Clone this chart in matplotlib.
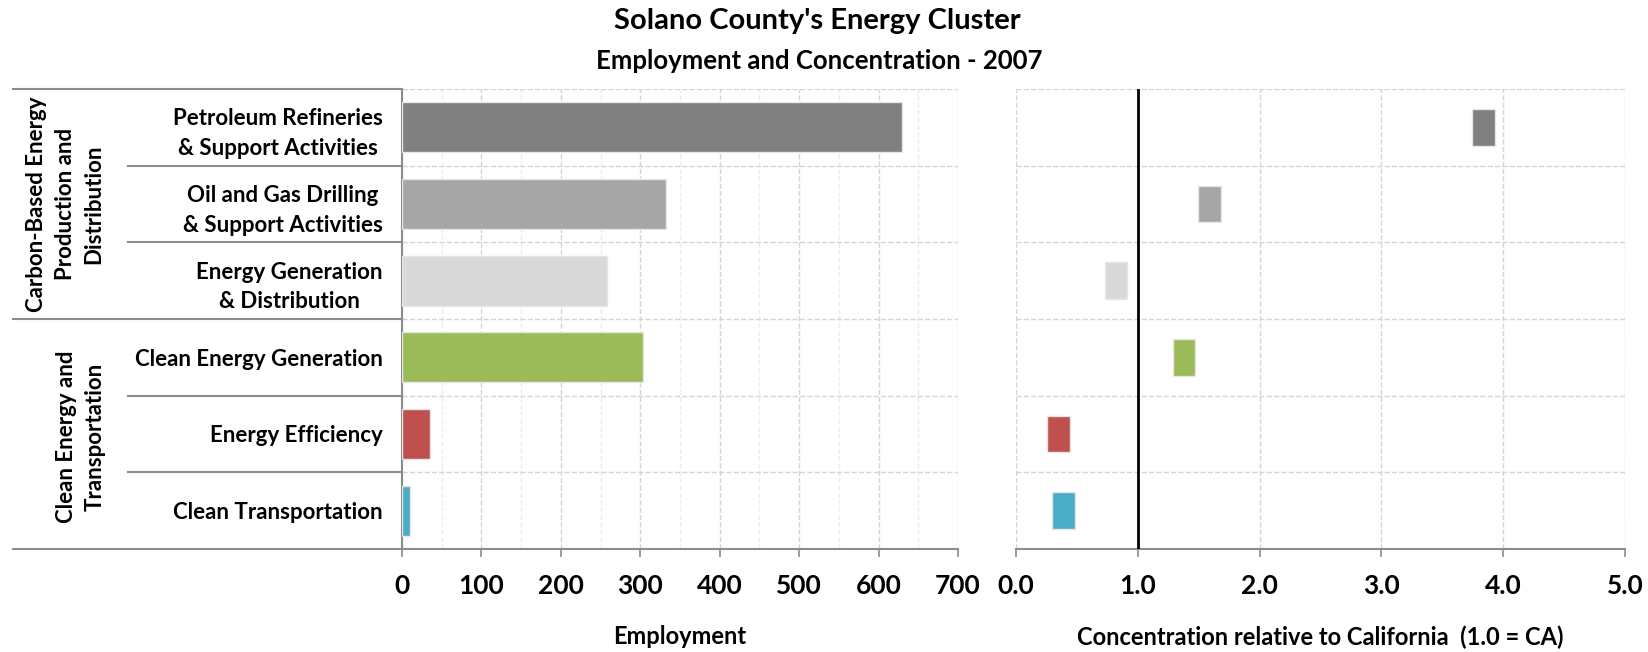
import numpy as np
import matplotlib.pyplot as plt
from matplotlib.lines import Line2D
from matplotlib.ticker import MultipleLocator, FixedLocator

plt.rcParams['font.family'] = ['Lato', 'DejaVu Sans']
plt.rcParams['font.weight'] = 'bold'

# data
categories = ["Petroleum Refineries\n& Support Activities",
              "Oil and Gas Drilling\n& Support Activities",
              "Energy Generation\n& Distribution",
              "Clean Energy Generation",
              "Energy Efficiency",
              "Clean Transportation"]
groups = ["Carbon-Based Energy\nProduction and\nDistribution",
          "Clean Energy and\nTransportation"]
group_sizes = [3, 3]
employment = [629, 333, 258, 303, 35, 10]
concentration = [3.84, 1.59, 0.82, 1.38, 0.35, 0.39]
colors = ['#808080', '#a6a6a6', '#d9d9d9', '#9bbb59', '#c0504d', '#4bacc6']

W, H = 1648, 652
fig = plt.figure(figsize=(W / 100, H / 100), dpi=100)
L1, R1, L2, R2, TOP, BOT = 402, 958, 1016, 1625, 89, 549
ax1 = fig.add_axes([L1 / W, 1 - BOT / H, (R1 - L1) / W, (BOT - TOP) / H])
ax2 = fig.add_axes([L2 / W, 1 - BOT / H, (R2 - L2) / W, (BOT - TOP) / H])

y = np.arange(len(categories))
fs = 16
grid_col = '#d4d4d4'

# employment bars
ax1.barh(y, employment, height=0.65, color=colors, edgecolor='#e6e6e6', linewidth=1, zorder=3)
ax1.set_xlim(0, 700)
ax1.set_ylim(len(categories) - 0.5, -0.5)
ax1.xaxis.set_major_locator(MultipleLocator(100))
ax1.xaxis.set_minor_locator(MultipleLocator(50))
ax1.set_yticks(y)
ax1.set_yticklabels(categories, fontsize=fs, fontweight='bold', linespacing=1.5)
for t in ax1.get_yticklabels():
    t.set_multialignment('center')
ax1.yaxis.set_minor_locator(FixedLocator(np.arange(-0.5, len(categories), 1.0)))
ax1.tick_params(axis='y', which='both', length=0, pad=14)
ax1.grid(axis='x', which='major', color=grid_col, linestyle='--', linewidth=1, zorder=0)
ax1.grid(axis='x', which='minor', color='#ececec', linestyle='--', linewidth=1, zorder=0)
ax1.grid(axis='y', which='minor', color=grid_col, linestyle='--', linewidth=1, zorder=0)
ax1.set_xlabel('Employment', fontsize=17, fontweight='bold')

# concentration markers
box_w = 0.186
ax2.barh(y, [box_w] * len(y), left=np.array(concentration) - box_w / 2, height=0.48,
         color=colors, edgecolor='#e6e6e6', linewidth=1, zorder=3)
ax2.axvline(1.0, color='black', linewidth=2, zorder=4)
ax2.set_xlim(0, 5)
ax2.set_ylim(len(categories) - 0.5, -0.5)
ax2.set_xticks(np.arange(0, 5.1, 1.0))
ax2.set_xticklabels([f"{v:.1f}" for v in np.arange(0, 5.1, 1.0)])
ax2.set_yticks(np.arange(-0.5, len(categories), 1.0))
ax2.set_yticklabels([])
ax2.tick_params(axis='y', length=0)
ax2.grid(axis='both', color=grid_col, linestyle='--', linewidth=1, zorder=0)
ax2.set_xlabel('Concentration relative to California  (1.0 = CA)', fontsize=17, fontweight='bold')

for ax in (ax1, ax2):
    for s in ('top', 'right'):
        ax.spines[s].set_visible(False)
    ax.spines['bottom'].set_color('#8c8c8c')
    ax.spines['bottom'].set_linewidth(1.5)
    ax.tick_params(axis='x', which='major', direction='out', length=6, width=1.2,
                   color='#8c8c8c', pad=12, labelsize=19)
    ax.tick_params(axis='x', which='minor', length=0)
    for t in ax.get_xticklabels():
        t.set_fontweight('bold')
    ax.xaxis.set_label_coords(0.5, -(637 - BOT) / (BOT - TOP))
    ax.xaxis.label.set_va('center')
ax1.spines['left'].set_color('#8c8c8c')
ax1.spines['left'].set_linewidth(1.5)
ax2.spines['left'].set_visible(False)

# category table lines on the left
trans = ax1.get_yaxis_transform()
x_inner = -(L1 - 128) / (R1 - L1)
x_outer = -(L1 - 13) / (R1 - L1)
bounds = np.cumsum([0] + group_sizes) - 0.5
for b in np.arange(-0.5, len(categories), 1.0):
    x0 = x_outer if b in bounds else x_inner
    ax1.add_line(Line2D([x0, 0], [b, b], transform=trans, color='#8c8c8c',
                        linewidth=1.5, clip_on=False))

# group labels
for g, gx, gy in zip(groups, [65, 81], [204, 437]):
    fig.text(gx / W, 1 - gy / H, g, rotation=90, ha='center', va='center',
             multialignment='center', fontsize=fs, fontweight='bold', linespacing=1.45)

fig.text(817 / W, 1 - 21 / H, "Solano County's Energy Cluster", ha='center', va='center',
         fontsize=21, fontweight='bold')
fig.text(819 / W, 1 - 61 / H, "Employment and Concentration - 2007", ha='center', va='center',
         fontsize=18.5, fontweight='bold')

fig.savefig('out.png', dpi=100)
